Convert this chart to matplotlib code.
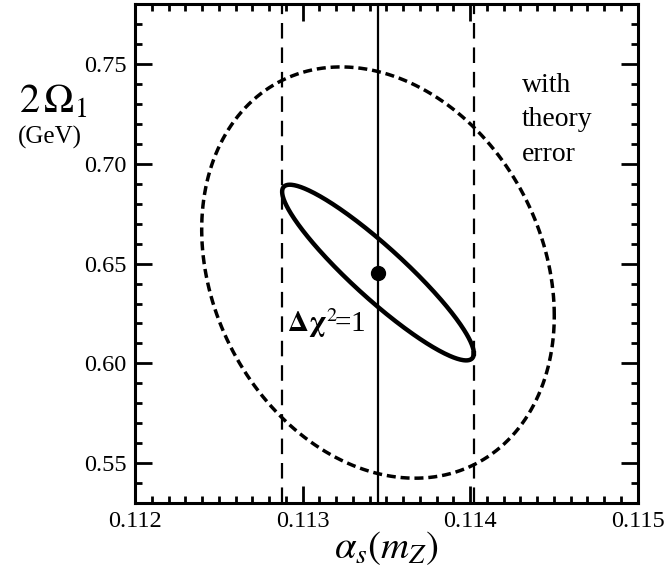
import numpy as np
import matplotlib.pyplot as plt
from matplotlib.ticker import MultipleLocator

plt.rcParams['font.family'] = 'Liberation Serif'
plt.rcParams['mathtext.fontset'] = 'stix'

# fit result (best fit point)
alpha_best = 0.11345
omega_best = 0.6455

# delta chi^2 = 1 ellipse, experimental only
sig_a_exp = 0.000572
sig_o_exp = 0.0440
rho_exp = -0.92

# with theory error
sig_a_th = 0.001052
sig_o_th = 0.1030
rho_th = -0.21

# alpha_s(mZ) band
alpha_lo = 0.11288
alpha_hi = 0.11402


def ellipse(sa, so, rho):
    t = np.linspace(0, 2 * np.pi, 400)
    d = np.arccos(rho)
    return alpha_best + sa * np.cos(t), omega_best + so * np.cos(t - d)


fig = plt.figure(figsize=(6.65, 5.77), dpi=100)
ax = fig.add_axes([0.203, 0.128, 0.756, 0.865])

xe, ye = ellipse(sig_a_exp, sig_o_exp, rho_exp)
ax.plot(xe, ye, c='k', lw=3.2)
xt, yt = ellipse(sig_a_th, sig_o_th, rho_th)
ax.plot(xt, yt, c='k', lw=2.5, dashes=(2.6, 1.4))

ax.axvline(alpha_best, c='k', lw=1.6)
ax.axvline(alpha_lo, c='k', lw=1.6, dashes=(7, 4))
ax.axvline(alpha_hi, c='k', lw=1.6, dashes=(7, 4))
ax.plot(alpha_best, omega_best, 'o', c='k', ms=10)

ax.text(0.11291, 0.6155, r'$\mathbf{\Delta}\mathbf{\chi}^2\!$=1', fontsize=21)
ax.text(0.11431, 0.7455, 'with\ntheory\nerror', fontsize=20, va='top', linespacing=1.5)

ax.set_xlim(0.112, 0.115)
ax.set_ylim(0.53, 0.78)
ax.xaxis.set_major_locator(MultipleLocator(0.001))
ax.xaxis.set_minor_locator(MultipleLocator(0.0001))
ax.yaxis.set_major_locator(MultipleLocator(0.05))
ax.yaxis.set_minor_locator(MultipleLocator(0.01))
ax.xaxis.set_major_formatter(plt.FormatStrFormatter('%.3f'))
ax.yaxis.set_major_formatter(plt.FormatStrFormatter('%.2f'))
ax.tick_params(which='both', direction='in', top=True, right=True, labelsize=17.5, width=2)
ax.tick_params(which='major', length=12, pad=6)
ax.tick_params(which='minor', length=5)
for s in ax.spines.values():
    s.set_linewidth(2.2)

fig.text(0.08, 0.805, r'$2\,\Omega_1$', fontsize=29, ha='center')
fig.text(0.075, 0.752, '(GeV)', fontsize=18, ha='center')
ax.set_xlabel(r'$\alpha_s(m_Z)$', fontsize=28, labelpad=-2)

fig.savefig('out.png', dpi=100)
